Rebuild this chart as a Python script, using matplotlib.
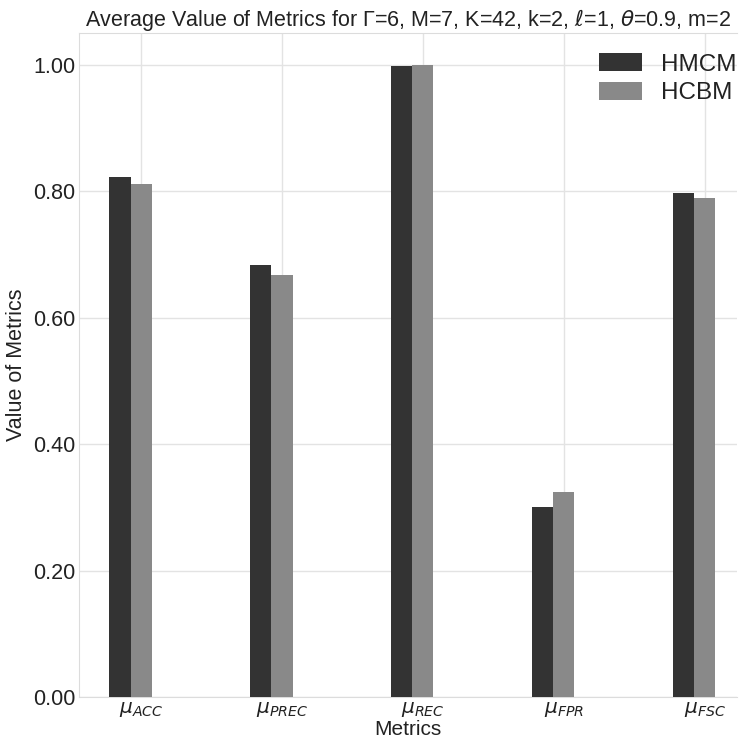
import matplotlib
matplotlib.use("Agg")
import matplotlib.pyplot as plt
import numpy as np
from matplotlib.ticker import FormatStrFormatter

metrics = [r"$\mu_{ACC}$", r"$\mu_{PREC}$", r"$\mu_{REC}$", r"$\mu_{FPR}$", r"$\mu_{FSC}$"]
hmcm = [0.823, 0.684, 0.998, 0.300, 0.797]
hcbm = [0.812, 0.668, 1.000, 0.324, 0.789]
series_names = ["HMCM", "HCBM"]

plt.rcParams['font.family'] = ['Liberation Sans', 'DejaVu Sans']
plt.rcParams['mathtext.fontset'] = 'dejavusans'

fig = plt.figure(figsize=(7.4, 7.4), dpi=100)
ax = fig.add_axes([0.107, 0.058, 0.889, 0.897])

x = np.arange(len(metrics))
w = 0.15
ax.bar(x - w, hmcm, width=w, color='#333333', label=series_names[0], zorder=3)
ax.bar(x, hcbm, width=w, color='#898989', label=series_names[1], zorder=3)

ax.set_xlim(-0.44, 4.23)
ax.set_ylim(0, 1.05)
ax.set_yticks([0, 0.2, 0.4, 0.6, 0.8, 1.0])
ax.yaxis.set_major_formatter(FormatStrFormatter('%.2f'))
ax.set_xticks(x)
ax.set_xticklabels(metrics, fontsize=14.5)
ax.tick_params(axis='y', labelsize=15.5, length=0, pad=3, labelcolor='#222222')
ax.tick_params(axis='x', length=0, pad=2, labelcolor='#222222')

ax.grid(True, color='#e3e3e3', linewidth=1.0, zorder=0)
ax.set_axisbelow(True)
for s in ['left', 'bottom', 'top']:
    ax.spines[s].set_color('#dcdcdc')
ax.spines['right'].set_visible(False)

ax.set_xlabel("Metrics", fontsize=15, color='#222222')
ax.xaxis.set_label_coords(0.5, -0.034)
ax.set_ylabel("Value of Metrics", fontsize=15.5, labelpad=4, color='#222222')
ax.set_title(r"Average Value of Metrics for Γ=6, M=7, K=42, k=2, $\ell$=1, $\theta$=0.9, m=2",
             fontsize=15.5, pad=5, color='#222222')

leg = ax.legend(loc='upper right', bbox_to_anchor=(1.018, 0.988), frameon=False,
                fontsize=17.5, handlelength=1.75, handleheight=0.75, borderaxespad=0.1,
                borderpad=0.4, labelspacing=0.25, handletextpad=0.8)
for t in leg.get_texts():
    t.set_color('#222222')

fig.savefig("out.png", dpi=100)
